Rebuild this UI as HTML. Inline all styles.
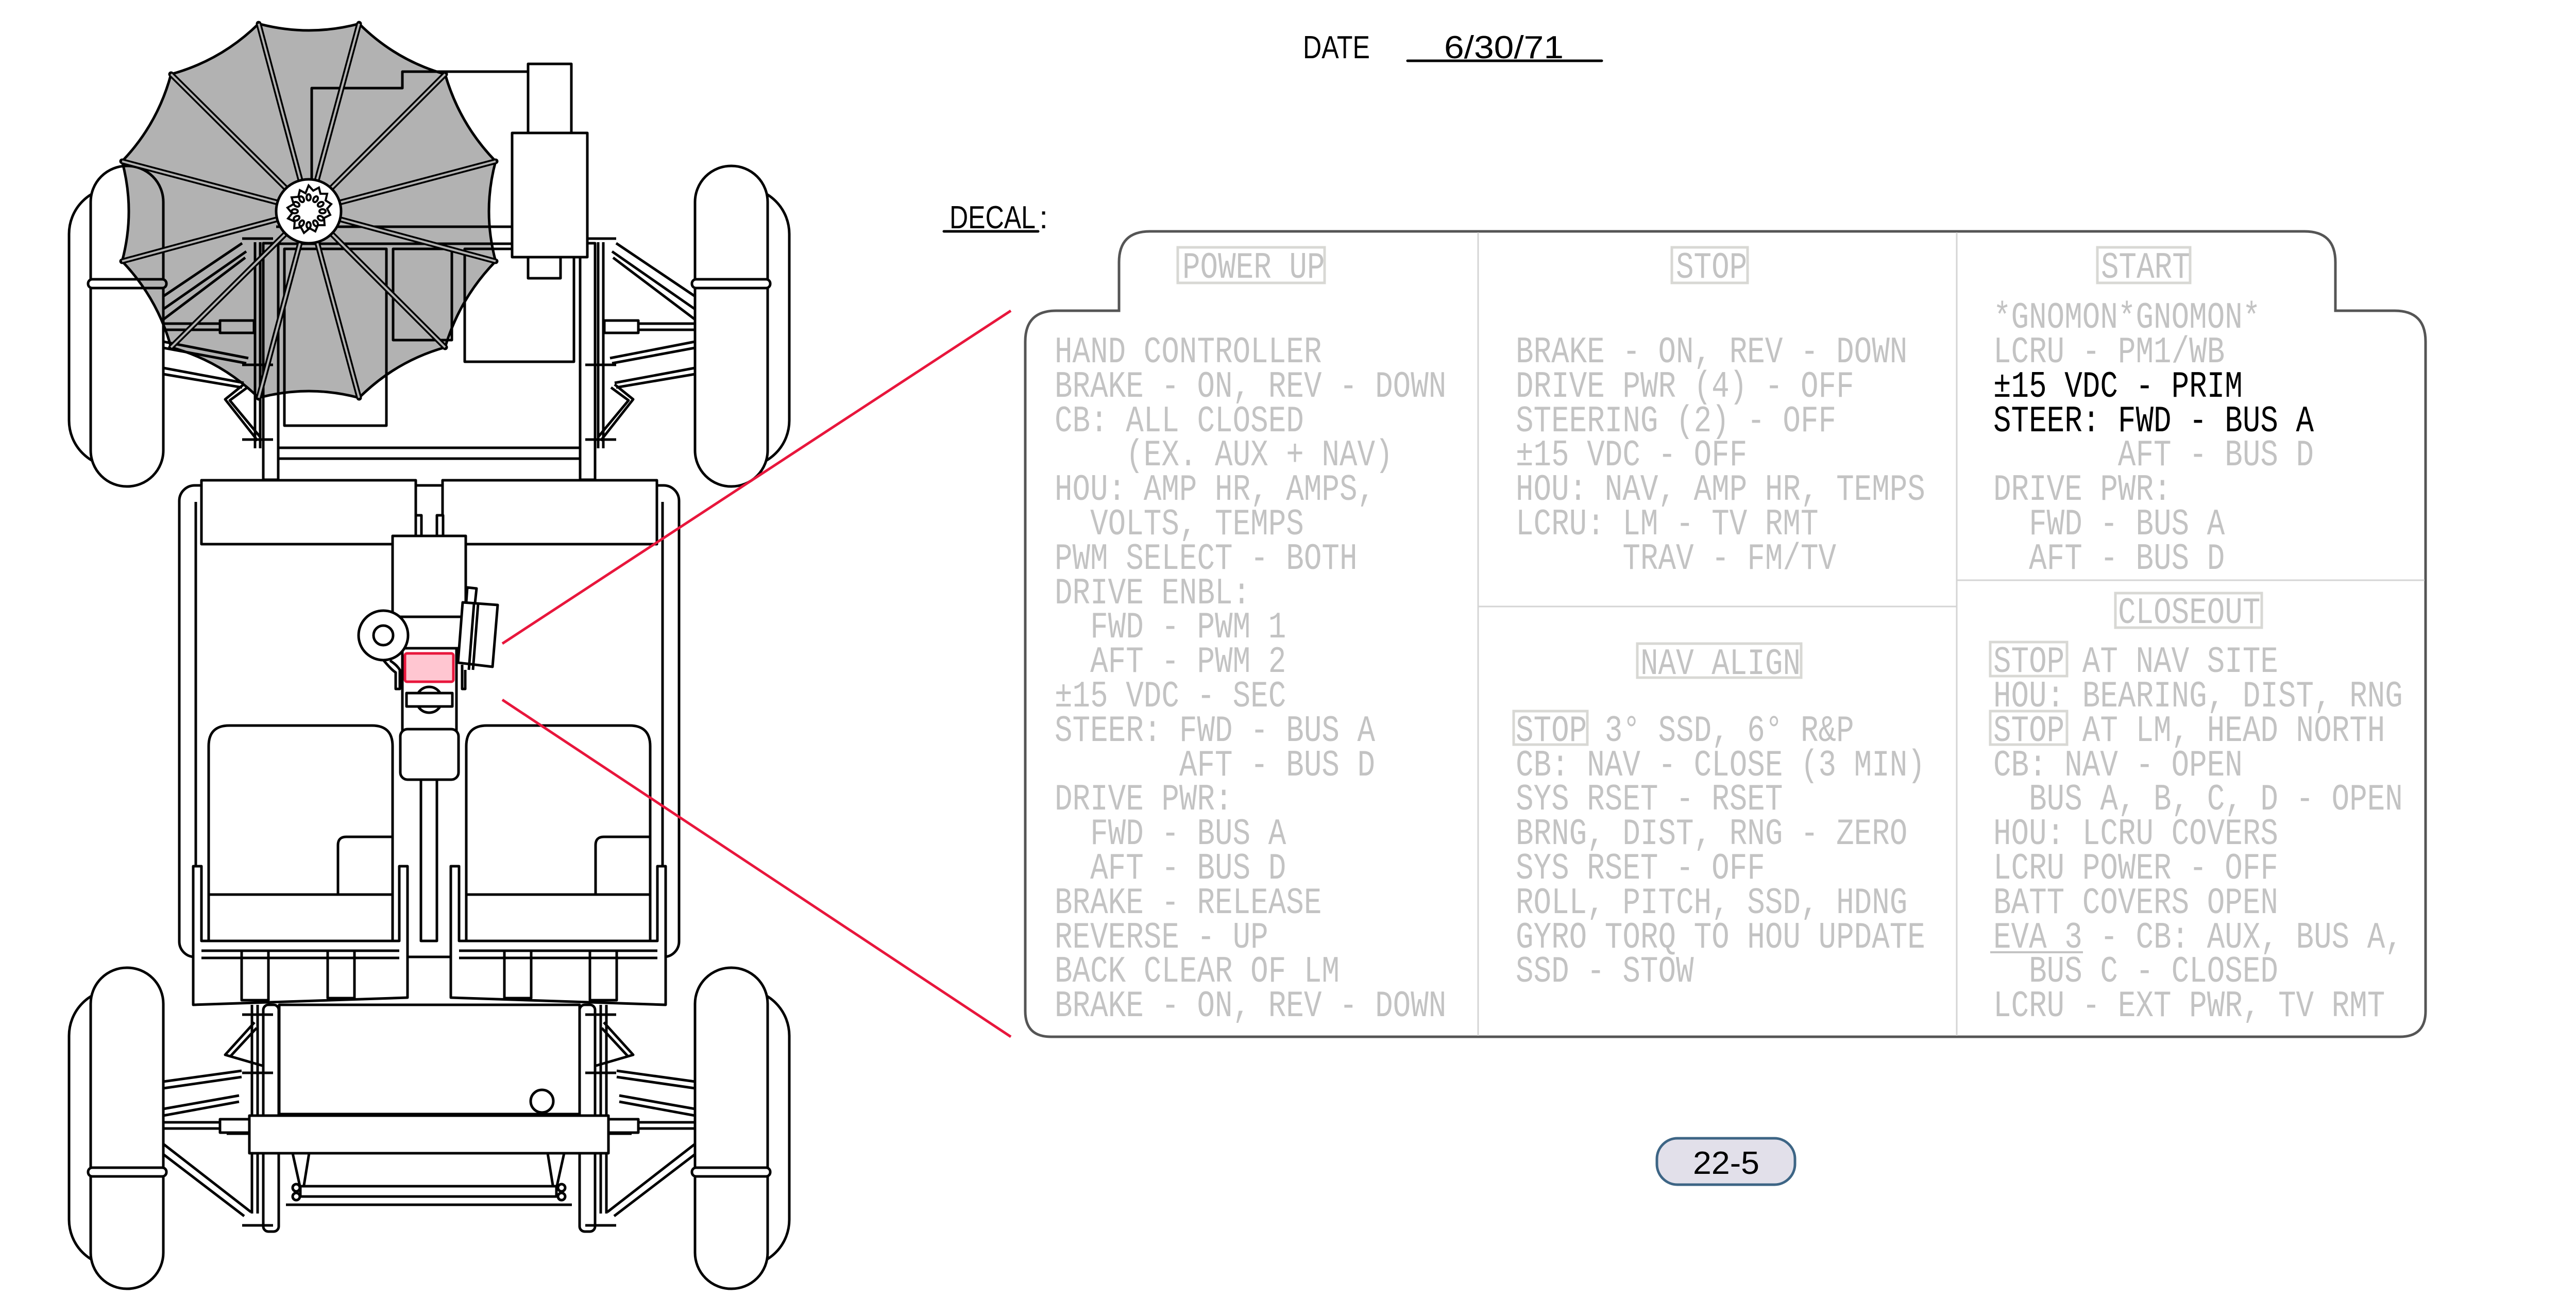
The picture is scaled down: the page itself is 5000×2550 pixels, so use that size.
<!DOCTYPE html>
<html><head><meta charset="utf-8"><style>
html,body{margin:0;padding:0;background:#fff}
svg{display:block}
.t{font-family:"Liberation Mono","DejaVu Sans Mono",monospace;font-size:72px;fill:#c3c3c3;white-space:pre}
.k{fill:#000}
.ln{fill:none;stroke:#000;stroke-width:5;stroke-linejoin:round}
.w{fill:#fff;stroke:#000;stroke-width:5;stroke-linejoin:round}
.bx{fill:none;stroke:#d8d8d4;stroke-width:5}
</style></head><body>
<svg width="5000" height="2550" viewBox="0 0 5000 2550" xmlns="http://www.w3.org/2000/svg" xmlns:xlink="http://www.w3.org/1999/xlink">
<defs>
<g id="half">
  <rect class="w" x="134" y="364" width="183" height="542" rx="90"/>
  <rect class="w" x="176" y="322" width="141" height="622" rx="70"/>
  <rect class="w" x="171" y="542" width="152" height="17" rx="8"/>
  <rect class="w" x="134" y="1920" width="183" height="537" rx="90"/>
  <rect class="w" x="176" y="1878" width="141" height="623" rx="70"/>
  <rect class="w" x="171" y="2266" width="152" height="17" rx="8"/>
  <path class="ln" d="M317,575 L470,472 M317,600 L478,488 M317,620 L476,500"/>
  <rect class="w" x="427" y="622" width="66" height="24"/>
  <path class="ln" d="M317,628 H427 M317,640 H427"/>
  <path class="ln" d="M317,663 L482,695 M317,675 L478,705 M317,714 L473,743 M317,726 L470,752"/>
  <path class="ln" d="M473,746 L437,775 L500,855 M480,752 L446,777 L505,848"/>
  <path class="ln" d="M495,470 V870 M505,470 V870"/>
  <rect class="w" x="511" y="472" width="29" height="459"/>
  <path class="ln" d="M470,463 H530 M470,708 H530 M470,853 H530"/>
  <path class="ln" d="M317,2099 L469,2078 M317,2112 L469,2090 M317,2152 L464,2126 M317,2165 L464,2138"/>
  <path class="ln" d="M317,2178 H427 M317,2190 H427"/>
  <rect class="w" x="427" y="2172" width="58" height="26"/>
  <path class="ln" d="M317,2220 L487,2352 M317,2240 L474,2360"/>
  <path class="ln" d="M494,1984 L437,2047 L509,2068 M498,1995 L448,2049"/>
  <path class="ln" d="M489,1950 V2355 M500,1950 V2355"/>
  <rect class="w" x="511" y="1950" width="30" height="440" rx="10"/>
  <path class="ln" d="M470,1969 H530 M470,2082 H530 M470,2378 H530"/>
</g>
</defs>

<use xlink:href="#half"/>
<use xlink:href="#half" transform="translate(1666,0) scale(-1,1)"/>

<path class="ln" d="M540,869 H1125 M540,890 H1125"/>
<path class="ln" d="M536,440 H994 M536,473 H994"/>
<rect class="ln" x="552" y="483" width="198" height="343"/>
<rect class="ln" x="763" y="483" width="114" height="177"/>
<rect class="ln" x="902" y="483" width="212" height="219"/>
<path class="ln" d="M1025,139 H781 V171 H605 V472"/>
<rect class="w" x="1025" y="124" width="84" height="134"/>
<rect class="w" x="994" y="258" width="146" height="241"/>
<rect class="ln" x="1025" y="499" width="63" height="41"/>

<rect class="w" x="348" y="942" width="970" height="915" rx="30"/>
<path class="ln" d="M380,974 V1826 M1286,974 V1826"/>
<rect class="w" x="391" y="932" width="416" height="124"/>
<rect class="w" x="859" y="932" width="416" height="124"/>
<path class="w" d="M405,1826 V1448 Q405,1408 445,1408 H722 Q762,1408 762,1448 V1826 Z"/>
<path class="w" d="M905,1826 V1448 Q905,1408 945,1408 H1222 Q1262,1408 1262,1448 V1826 Z"/>
<path class="ln" d="M656,1736 V1640 Q656,1624 672,1624 H762 M1156,1736 V1640 Q1156,1624 1172,1624 H1262"/>
<path class="ln" d="M405,1736 H762 M905,1736 H1262"/>
<path class="w" d="M375,1681 H391 V1826 H775 V1681 H791 V1936 L375,1950 Z"/>
<path class="w" d="M875,1681 H891 V1826 H1276 V1681 H1292 V1950 L875,1936 Z"/>
<path class="ln" d="M391,1845 H775 M391,1859 H775 M891,1845 H1276 M891,1859 H1276"/>
<rect class="ln" x="469" y="1845" width="52" height="96"/>
<rect class="ln" x="636" y="1845" width="52" height="92"/>
<rect class="ln" x="979" y="1845" width="52" height="92"/>
<rect class="ln" x="1145" y="1845" width="52" height="96"/>
<rect class="w" x="817" y="1513" width="31" height="313"/>
<rect class="w" x="781" y="1258" width="105" height="160"/>
<rect class="w" x="777" y="1197" width="120" height="61"/>
<rect class="w" x="762" y="1040" width="142" height="157"/>
<rect class="w" x="807" y="1000" width="11" height="40"/>
<rect class="w" x="848" y="1000" width="12" height="40"/>
<rect class="w" x="777" y="1415" width="113" height="98" rx="14"/>
<circle class="w" cx="744" cy="1233" r="48"/>
<circle class="w" cx="744" cy="1233" r="19"/>
<path class="ln" d="M745,1282 Q760,1300 768,1305 V1337 H776 V1300 Q770,1290 757,1282"/>
<path class="ln" d="M897,1290 V1337 H903 V1300"/>
<rect x="786" y="1268" width="94" height="55" rx="4" fill="#ffc6d1" stroke="#e8163c" stroke-width="5"/>
<circle class="w" cx="833" cy="1358" r="25"/>
<rect class="w" x="789" y="1345" width="89" height="26"/>
<polygon class="w" points="898,1169 966,1174 956,1294 889,1286"/>
<path class="ln" d="M920,1172 L910,1300 M928,1172 L918,1300 M905,1169 L907,1140 L925,1142 L922,1170"/>
<rect class="w" x="542" y="1950" width="583" height="212"/>
<circle class="w" cx="1052" cy="2137" r="22"/>
<rect class="w" x="484" y="2165" width="697" height="73"/>
<path class="ln" d="M440,2200 H484 M1181,2200 H1226"/>
<path class="w" d="M568,2238 L585,2315 H1078 L1095,2238 Z"/>
<path class="ln" d="M600,2238 L590,2300 M1063,2238 L1073,2300"/>
<rect class="w" x="583" y="2302" width="497" height="20"/>
<path class="ln" d="M555,2338 H1110"/>
<circle class="w" cx="575" cy="2305" r="7"/><circle class="w" cx="575" cy="2322" r="7"/>
<circle class="w" cx="1090" cy="2305" r="7"/><circle class="w" cx="1090" cy="2322" r="7"/>

<path d="M502,46 Q599.5,72 697,46 Q768,117 864,144 Q892,241 962,313 Q936,410 962,507 Q892,579 864,674 Q768,701 697,772 Q599.5,746 502,772 Q430,701 332,674 Q306,579 237,507 Q263,410 237,313 Q306,241 332,144 Q430,117 502,46 Z" fill="#000" fill-opacity="0.3" stroke="#000" stroke-width="5"/>
<g stroke="#000" stroke-width="11" stroke-linecap="round">
<path d="M599,409 L502,46 M599,409 L697,46 M599,409 L864,144 M599,409 L962,313 M599,409 L962,507 M599,409 L864,674 M599,409 L697,772 M599,409 L502,772 M599,409 L332,674 M599,409 L237,507 M599,409 L237,313 M599,409 L332,144"/>
</g>
<g stroke="#b3b3b3" stroke-width="4">
<path d="M599,409 L502,46 M599,409 L697,46 M599,409 L864,144 M599,409 L962,313 M599,409 L962,507 M599,409 L864,674 M599,409 L697,772 M599,409 L502,772 M599,409 L332,674 M599,409 L237,507 M599,409 L237,313 M599,409 L332,144"/>
</g>
<ellipse cx="599" cy="410" rx="63" ry="62" fill="#fff" stroke="#000" stroke-width="5"/>
<g transform="translate(599,410)" fill="none" stroke="#000" stroke-width="4">
<polygon points="0,-50 9,-40 20,-46 23,-34 36,-34 33,-21 44,-14 36,-5 42,7 30,13 31,27 18,27 13,39 2,33 -9,42 -15,31 -28,33 -27,20 -40,14 -32,4 -41,-7 -29,-14 -33,-27 -20,-28 -17,-41 -6,-35"/>
<g id="ov"><ellipse cx="0" cy="-27" rx="4" ry="6"/></g>
<use xlink:href="#ov" transform="rotate(30)"/><use xlink:href="#ov" transform="rotate(60)"/><use xlink:href="#ov" transform="rotate(90)"/>
<use xlink:href="#ov" transform="rotate(120)"/><use xlink:href="#ov" transform="rotate(150)"/><use xlink:href="#ov" transform="rotate(180)"/>
<use xlink:href="#ov" transform="rotate(210)"/><use xlink:href="#ov" transform="rotate(240)"/><use xlink:href="#ov" transform="rotate(270)"/>
<use xlink:href="#ov" transform="rotate(300)"/><use xlink:href="#ov" transform="rotate(330)"/>
</g>

<path d="M975,1249 L1962,603 M975,1358 L1962,2012" stroke="#e8163c" stroke-width="5" fill="none"/>

<text x="2529" y="113" font-family="Liberation Sans, sans-serif" font-size="62" textLength="130" lengthAdjust="spacingAndGlyphs">DATE</text>
<text x="2803" y="113" font-family="Liberation Sans, sans-serif" font-size="62" textLength="232" lengthAdjust="spacingAndGlyphs">6/30/71</text>
<path d="M2732,118 H3109" stroke="#000" stroke-width="5" stroke-linecap="round"/>
<text x="1843" y="443" font-family="Liberation Sans, sans-serif" font-size="62" textLength="167" lengthAdjust="spacingAndGlyphs">DECAL</text>
<text x="2017" y="443" font-family="Liberation Sans, sans-serif" font-size="62">:</text>
<path d="M1832,449 H2015" stroke="#000" stroke-width="5" stroke-linecap="round"/>

<path d="M1990,663 Q1990,603 2050,603 H2172 V509 Q2172,449 2232,449 H4473 Q4533,449 4533,509 V603 H4648 Q4708,603 4708,663 V1962 Q4708,2012 4658,2012 H2040 Q1990,2012 1990,1962 Z" fill="#fff" stroke="#555" stroke-width="5"/>
<path d="M2869,451 V2010 M3798,451 V2010 M2869,1177 H3798 M3798,1126 H4706" stroke="#d4d4d4" stroke-width="3" fill="none"/>

<rect class="bx" x="2286" y="480" width="285" height="69"/>
<rect class="bx" x="3245" y="480" width="147" height="69"/>
<rect class="bx" x="4071" y="480" width="180" height="69"/>
<rect class="bx" x="3178" y="1249" width="318" height="66"/>
<rect class="bx" x="4106" y="1151" width="284" height="67"/>
<rect class="bx" x="2938" y="1380" width="143" height="65"/>
<rect class="bx" x="3863" y="1246" width="149" height="66"/>
<rect class="bx" x="3863" y="1380" width="149" height="65"/>
<path d="M3863,1848 H4043" stroke="#c3c3c3" stroke-width="4"/>

<g transform="translate(2295,0) scale(0.8,1)"><text class="t" x="0" y="539" xml:space="preserve">POWER UP</text></g>
<g transform="translate(3253,0) scale(0.8,1)"><text class="t" x="0" y="539" xml:space="preserve">STOP</text></g>
<g transform="translate(4078,0) scale(0.8,1)"><text class="t" x="0" y="539" xml:space="preserve">START</text></g>
<g transform="translate(3184,0) scale(0.8,1)"><text class="t" x="0" y="1308" xml:space="preserve">NAV ALIGN</text></g>
<g transform="translate(4111,0) scale(0.8,1)"><text class="t" x="0" y="1209" xml:space="preserve">CLOSEOUT</text></g>

<g transform="translate(2047,0) scale(0.8,1)">
<text class="t" xml:space="preserve">
<tspan x="0" y="703">HAND CONTROLLER</tspan>
<tspan x="0" y="770">BRAKE - ON, REV - DOWN</tspan>
<tspan x="0" y="837">CB: ALL CLOSED</tspan>
<tspan x="0" y="903">    (EX. AUX + NAV)</tspan>
<tspan x="0" y="970">HOU: AMP HR, AMPS,</tspan>
<tspan x="0" y="1037">  VOLTS, TEMPS</tspan>
<tspan x="0" y="1104">PWM SELECT - BOTH</tspan>
<tspan x="0" y="1171">DRIVE ENBL:</tspan>
<tspan x="0" y="1237">  FWD - PWM 1</tspan>
<tspan x="0" y="1304">  AFT - PWM 2</tspan>
<tspan x="0" y="1371">±15 VDC - SEC</tspan>
<tspan x="0" y="1438">STEER: FWD - BUS A</tspan>
<tspan x="0" y="1505">       AFT - BUS D</tspan>
<tspan x="0" y="1571">DRIVE PWR:</tspan>
<tspan x="0" y="1638">  FWD - BUS A</tspan>
<tspan x="0" y="1705">  AFT - BUS D</tspan>
<tspan x="0" y="1772">BRAKE - RELEASE</tspan>
<tspan x="0" y="1839">REVERSE - UP</tspan>
<tspan x="0" y="1905">BACK CLEAR OF LM</tspan>
<tspan x="0" y="1972">BRAKE - ON, REV - DOWN</tspan>
</text></g>

<g transform="translate(2942,0) scale(0.8,1)">
<text class="t" xml:space="preserve">
<tspan x="0" y="703">BRAKE - ON, REV - DOWN</tspan>
<tspan x="0" y="770">DRIVE PWR (4) - OFF</tspan>
<tspan x="0" y="837">STEERING (2) - OFF</tspan>
<tspan x="0" y="903">±15 VDC - OFF</tspan>
<tspan x="0" y="970">HOU: NAV, AMP HR, TEMPS</tspan>
<tspan x="0" y="1037">LCRU: LM - TV RMT</tspan>
<tspan x="0" y="1104">      TRAV - FM/TV</tspan>
<tspan x="0" y="1438">STOP 3° SSD, 6° R&amp;P</tspan>
<tspan x="0" y="1505">CB: NAV - CLOSE (3 MIN)</tspan>
<tspan x="0" y="1571">SYS RSET - RSET</tspan>
<tspan x="0" y="1638">BRNG, DIST, RNG - ZERO</tspan>
<tspan x="0" y="1705">SYS RSET - OFF</tspan>
<tspan x="0" y="1772">ROLL, PITCH, SSD, HDNG</tspan>
<tspan x="0" y="1839">GYRO TORQ TO HOU UPDATE</tspan>
<tspan x="0" y="1905">SSD - STOW</tspan>
</text></g>

<g transform="translate(3869,0) scale(0.8,1)">
<text class="t" xml:space="preserve">
<tspan x="0" y="636">*GNOMON*GNOMON*</tspan>
<tspan x="0" y="703">LCRU - PM1/WB</tspan>
<tspan x="0" y="770" class="k">±15 VDC - PRIM</tspan>
<tspan x="0" y="837" class="k">STEER: FWD - BUS A</tspan>
<tspan x="0" y="903">       AFT - BUS D</tspan>
<tspan x="0" y="970">DRIVE PWR:</tspan>
<tspan x="0" y="1037">  FWD - BUS A</tspan>
<tspan x="0" y="1104">  AFT - BUS D</tspan>
<tspan x="0" y="1304">STOP AT NAV SITE</tspan>
<tspan x="0" y="1371">HOU: BEARING, DIST, RNG</tspan>
<tspan x="0" y="1438">STOP AT LM, HEAD NORTH</tspan>
<tspan x="0" y="1505">CB: NAV - OPEN</tspan>
<tspan x="0" y="1571">  BUS A, B, C, D - OPEN</tspan>
<tspan x="0" y="1638">HOU: LCRU COVERS</tspan>
<tspan x="0" y="1705">LCRU POWER - OFF</tspan>
<tspan x="0" y="1772">BATT COVERS OPEN</tspan>
<tspan x="0" y="1839">EVA 3 - CB: AUX, BUS A,</tspan>
<tspan x="0" y="1905">  BUS C - CLOSED</tspan>
<tspan x="0" y="1972">LCRU - EXT PWR, TV RMT</tspan>
</text></g>

<rect x="3216" y="2209" width="268" height="90" rx="40" fill="#e2e0ea" stroke="#3d6585" stroke-width="5"/>
<text x="3286" y="2278" font-family="Liberation Sans, sans-serif" font-size="62" textLength="129" lengthAdjust="spacingAndGlyphs">22-5</text>
</svg>
</body></html>
